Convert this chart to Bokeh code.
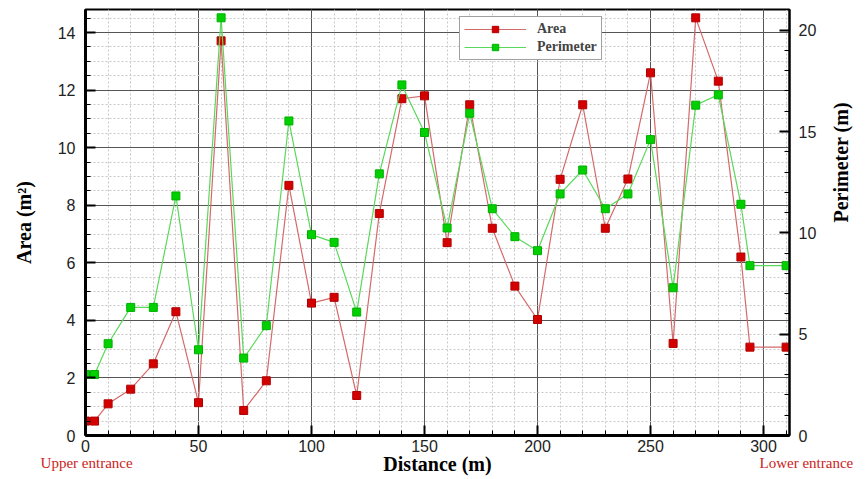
import math
from bokeh.plotting import figure
from bokeh.models import (LinearAxis, Range1d, Legend, LegendItem, FixedTicker,
                          SingleIntervalTicker)
from bokeh.embed import file_html
from bokeh.resources import INLINE

distance = [0, 4, 10, 20, 30, 40, 50, 60, 70, 80, 90, 100, 110, 120, 130, 140, 150,
            160, 170, 180, 190, 200, 210, 220, 230, 240, 250, 260, 270, 280, 290, 294, 310]
area = [0.50, 0.50, 1.10, 1.61, 2.49, 4.30, 1.14, 13.71, 0.87, 1.90, 8.69, 4.60, 4.80,
        1.39, 7.71, 11.70, 11.80, 6.70, 11.49, 7.20, 5.19, 4.03, 8.90, 11.49, 7.20, 8.91,
        12.60, 3.20, 14.51, 12.31, 6.20, 3.07, 3.07]
perimeter = [3.01, 3.01, 4.53, 6.32, 6.32, 11.82, 4.23, 20.61, 3.82, 5.42, 15.52, 9.91,
             9.53, 6.09, 12.91, 17.30, 14.95, 10.24, 15.90, 11.19, 9.81, 9.12, 11.92, 13.10,
             11.19, 11.92, 14.60, 7.29, 16.30, 16.81, 11.41, 8.38, 8.38]
series_names = ["Area", "Perimeter"]
x_title = "Distance (m)"
y_title = "Area (m²)"
y2_title = "Perimeter (m)"
note_left = "Upper entrance"
note_right = "Lower entrance"
note_pos = [0.5, 311.5]   # distance at the two cave entrances' notes

SERIF = "Liberation Serif"
SANS = "Liberation Sans"
RED_M, RED_L = "#d40000", "#d46a6a"
GRN_M, GRN_L = "#00d000", "#5ad85a"
NOTE_C = "#cc2222"

p = figure(width=866, height=479, output_backend="svg", toolbar_location=None,
           x_range=Range1d(0, 311.5), y_range=Range1d(0, 14.8),
           min_border_left=85, min_border_right=77, min_border_top=9,
           min_border_bottom=44)
p.extra_y_ranges = {"perim": Range1d(0, 21.02)}

p.outline_line_color = "black"
p.outline_line_width = 2
p.background_fill_color = "white"
p.border_fill_color = "white"

# axes
p.xaxis.ticker = SingleIntervalTicker(interval=50, num_minor_ticks=5)
p.yaxis.ticker = SingleIntervalTicker(interval=2, num_minor_ticks=4)
right = LinearAxis(y_range_name="perim",
                   ticker=SingleIntervalTicker(interval=5, num_minor_ticks=5))
p.add_layout(right, "right")

for ax in [p.xaxis[0], p.yaxis[0], right]:
    ax.major_tick_in = 10
    ax.major_tick_out = 0
    ax.minor_tick_in = 5
    ax.minor_tick_out = 0
    ax.major_tick_line_width = 2
    ax.major_tick_line_color = "black"
    ax.minor_tick_line_color = "black"
    ax.axis_line_color = "black"
    ax.major_label_text_font = SANS
    ax.major_label_text_font_size = "16px"
    ax.major_label_text_color = "#222222"
    ax.axis_label_text_font = SERIF
    ax.axis_label_text_font_style = "bold"
    ax.axis_label_text_font_size = "20px"
    ax.axis_label_text_color = "black"

p.xaxis.axis_line_width = 3
p.yaxis.axis_line_width = 3
right.axis_line_width = 2
p.yaxis.axis_label = y_title
right.axis_label = y2_title
right.axis_label_orientation = math.pi / 2
p.xaxis.major_label_standoff = 4
p.yaxis.major_label_standoff = 10
p.yaxis.axis_label_standoff = 20
right.major_label_standoff = 9
right.axis_label_standoff = 22

# secondary bottom axis carrying the entrance notes and the x title
nb = "\u00a0" * 9
notes = LinearAxis(ticker=FixedTicker(ticks=note_pos, minor_ticks=[]),
                   major_label_overrides={note_pos[0]: note_left,
                                          note_pos[1]: nb + note_right})
notes.axis_line_color = None
notes.major_tick_line_color = None
notes.minor_tick_line_color = None
notes.major_tick_in = 0
notes.major_tick_out = 0
notes.minor_tick_in = 0
notes.minor_tick_out = 0
notes.major_label_standoff = 0
notes.major_label_text_font = SERIF
notes.major_label_text_font_size = "15px"
notes.major_label_text_color = NOTE_C
notes.axis_label = x_title
notes.axis_label_text_font = SERIF
notes.axis_label_text_font_style = "bold"
notes.axis_label_text_font_size = "20px"
notes.axis_label_text_color = "black"
notes.axis_label_standoff = -21
p.add_layout(notes, "below")

# grids
for g in [p.xgrid[0], p.ygrid[0]]:
    g.grid_line_color = "#555555"
    g.grid_line_width = 1
    g.minor_grid_line_color = "#c8c8c8"
    g.minor_grid_line_dash = "2 2"
    g.minor_grid_line_width = 1

# data
la = p.line(distance, area, line_color=RED_L, line_width=1.2)
sa = p.scatter(distance, area, marker="square", size=8, fill_color=RED_M,
               line_color="#b00000")
lp = p.line(distance, perimeter, line_color=GRN_L, line_width=1.2, y_range_name="perim")
sp = p.scatter(distance, perimeter, marker="square", size=8, fill_color=GRN_M,
               line_color="#00b000", y_range_name="perim")

legend = Legend(items=[LegendItem(label=series_names[0], renderers=[la, sa]),
                       LegendItem(label=series_names[1], renderers=[lp, sp])],
                location=(374, 375), orientation="vertical")
legend.label_text_font = SERIF
legend.label_text_font_style = "bold"
legend.label_text_font_size = "14px"
legend.glyph_width = 62
legend.glyph_height = 16
legend.label_height = 16
legend.label_standoff = 11
legend.spacing = 2
legend.padding = 4
legend.margin = 0
legend.border_line_color = "#444444"
legend.border_line_width = 1
legend.background_fill_alpha = 1
p.add_layout(legend, "center")

open("out.html", "w").write(file_html(p, INLINE))
